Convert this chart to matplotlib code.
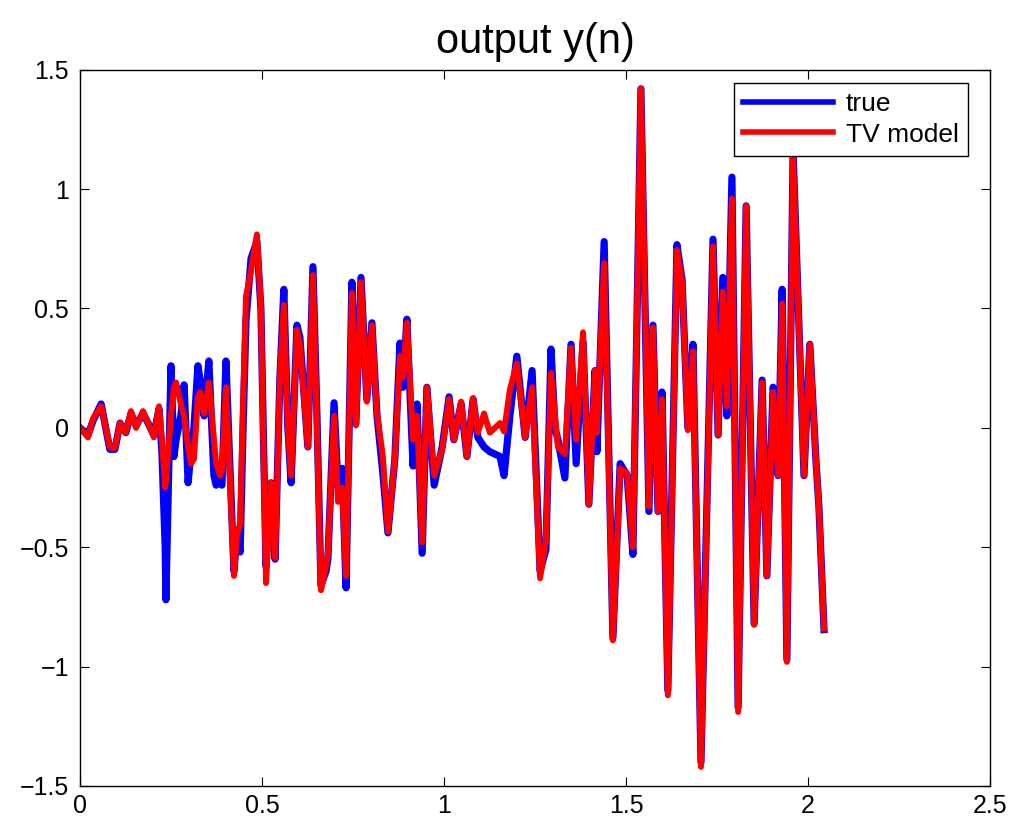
import numpy as np
import matplotlib
matplotlib.use('Agg')
import matplotlib.pyplot as plt
from matplotlib.ticker import FuncFormatter

# time samples (s) at the turning points
t = [0.000, 0.022, 0.036, 0.058, 0.082, 0.096, 0.110, 0.126, 0.140, 0.154,
     0.173, 0.187, 0.203, 0.217, 0.225, 0.234, 0.236, 0.250, 0.258, 0.264,
     0.277, 0.286, 0.297, 0.305, 0.313, 0.324, 0.330, 0.341, 0.354, 0.368,
     0.374, 0.385, 0.390, 0.401, 0.409, 0.423, 0.431, 0.440, 0.448, 0.456,
     0.470, 0.486, 0.497, 0.511, 0.525, 0.536, 0.549, 0.560, 0.571, 0.580,
     0.596, 0.604, 0.626, 0.640, 0.651, 0.662, 0.676, 0.681, 0.698, 0.709,
     0.720, 0.731, 0.747, 0.758, 0.772, 0.788, 0.802, 0.816, 0.832, 0.846,
     0.865, 0.879, 0.887, 0.898, 0.915, 0.926, 0.940, 0.953, 0.973, 0.995,
     1.014, 1.027, 1.047, 1.063, 1.080, 1.093, 1.110, 1.126, 1.140, 1.154,
     1.165, 1.181, 1.200, 1.223, 1.242, 1.264, 1.280, 1.294, 1.305, 1.313,
     1.332, 1.349, 1.363, 1.382, 1.398, 1.415, 1.420, 1.440, 1.464, 1.484,
     1.503, 1.519, 1.541, 1.563, 1.574, 1.588, 1.599, 1.615, 1.640, 1.654,
     1.670, 1.684, 1.706, 1.739, 1.753, 1.766, 1.777, 1.791, 1.808, 1.830,
     1.852, 1.874, 1.887, 1.904, 1.918, 1.929, 1.942, 1.959, 1.989, 2.005,
     2.022, 2.030, 2.044]

y_true = [0.00, -0.03, 0.03, 0.10, -0.09, -0.09, 0.02, -0.02, 0.06, 0.01,
          0.06, 0.02, -0.03, 0.08, -0.10, -0.50, -0.72, 0.26, -0.12, -0.05,
          0.05, 0.18, -0.23, -0.10, 0.00, 0.26, 0.20, 0.05, 0.28, -0.20,
          -0.24, -0.22, -0.24, 0.28, -0.05, -0.60, -0.45, -0.52, 0.00, 0.45,
          0.71, 0.78, 0.50, -0.58, -0.23, -0.55, 0.20, 0.58, 0.00, -0.23,
          0.43, 0.38, -0.08, 0.675, 0.05, -0.66, -0.60, -0.55, 0.105, -0.25,
          -0.17, -0.67, 0.61, 0.02, 0.63, 0.12, 0.44, 0.05, -0.19, -0.44,
          -0.13, 0.355, 0.17, 0.455, -0.16, 0.10, -0.525, 0.17, -0.24, -0.08,
          0.13, -0.05, 0.10, -0.12, 0.12, -0.04, -0.08, -0.10, -0.11, -0.12,
          -0.20, 0.05, 0.30, -0.04, 0.24, -0.60, -0.51, 0.33, 0.00, -0.05,
          -0.21, 0.35, -0.15, 0.36, -0.32, 0.24, -0.10, 0.78, -0.88, -0.15,
          -0.20, -0.53, 1.42, -0.35, 0.43, -0.35, 0.15, -1.10, 0.767, 0.62,
          0.00, 0.35, -1.40, 0.79, -0.03, 0.63, 0.05, 1.05, -1.17, 0.93,
          -0.82, 0.20, -0.62, 0.17, -0.20, 0.58, -0.97, 1.16, -0.20, 0.35,
          -0.14, -0.33, -0.845]

y_tv = [0.00, -0.04, 0.04, 0.09, -0.08, -0.085, 0.02, -0.02, 0.07, 0.00,
        0.07, 0.02, -0.04, 0.09, -0.05, -0.25, -0.22, 0.05, 0.17, 0.19,
        0.10, 0.05, -0.08, -0.15, -0.13, 0.13, 0.15, 0.06, 0.19, -0.05,
        -0.15, -0.20, -0.18, 0.17, -0.10, -0.62, -0.45, -0.40, 0.10, 0.55,
        0.66, 0.81, 0.50, -0.65, -0.23, -0.545, 0.20, 0.515, 0.00, -0.20,
        0.41, 0.35, -0.08, 0.64, 0.00, -0.68, -0.58, -0.53, 0.05, -0.31,
        -0.25, -0.62, 0.565, 0.01, 0.61, 0.11, 0.43, 0.06, -0.12, -0.435,
        -0.13, 0.30, 0.21, 0.44, -0.05, 0.05, -0.48, 0.17, -0.20, -0.09,
        0.12, -0.05, 0.11, -0.12, 0.125, -0.02, 0.06, -0.02, 0.00, 0.02,
        -0.015, 0.16, 0.27, -0.04, 0.17, -0.63, -0.47, 0.23, 0.05, -0.08,
        -0.11, 0.335, -0.05, 0.40, -0.32, 0.24, -0.02, 0.69, -0.89, -0.17,
        -0.19, -0.50, 1.42, -0.33, 0.42, -0.35, 0.12, -1.12, 0.745, 0.61,
        -0.01, 0.32, -1.42, 0.76, -0.03, 0.57, 0.09, 0.96, -1.19, 0.93,
        -0.825, 0.19, -0.62, 0.15, -0.20, 0.52, -0.98, 1.14, -0.20, 0.35,
        -0.14, -0.33, -0.84]

x_ticks = [0, 0.5, 1, 1.5, 2, 2.5]
y_ticks = [-1.5, -1, -0.5, 0, 0.5, 1, 1.5]

plt.rcParams['font.family'] = ['Liberation Sans', 'DejaVu Sans']

fig = plt.figure(figsize=(10.1, 8.25), dpi=100)
ax = fig.add_axes([0.0792, 0.0473, 0.901, 0.8682])

ax.plot(t, y_true, color='#0000ff', lw=5.2, solid_joinstyle='round', label='true')
ax.plot(t, y_tv, color='#ff0000', lw=4.3, solid_joinstyle='round', label='TV model')

# matlab style labels: %g with a real minus sign
fmt = FuncFormatter(lambda v, pos: ('%g' % v).replace('-', '\u2212'))

ax.set_xlim(0, 2.5)
ax.set_ylim(-1.5, 1.5)
ax.set_xticks(x_ticks)
ax.set_yticks(y_ticks)
ax.xaxis.set_major_formatter(fmt)
ax.yaxis.set_major_formatter(fmt)
ax.tick_params(direction='in', length=6.5, width=0.8, labelsize=18,
               top=True, right=True)
ax.tick_params(axis='x', pad=6)
ax.tick_params(axis='y', pad=8)
for s in ax.spines.values():
    s.set_linewidth(1.0)

ax.set_title('output y(n)', fontsize=30, pad=12)

leg = ax.legend(loc='upper right', bbox_to_anchor=(0.9758, 0.9818),
                fontsize=19, fancybox=False, framealpha=1, edgecolor='black',
                handlelength=3.4, borderaxespad=0, borderpad=0.35,
                labelspacing=0.25, handletextpad=0.5)
leg.get_frame().set_linewidth(1.0)
for line in leg.get_lines():
    line.set_linewidth(4)

fig.savefig('out.png', dpi=100)
